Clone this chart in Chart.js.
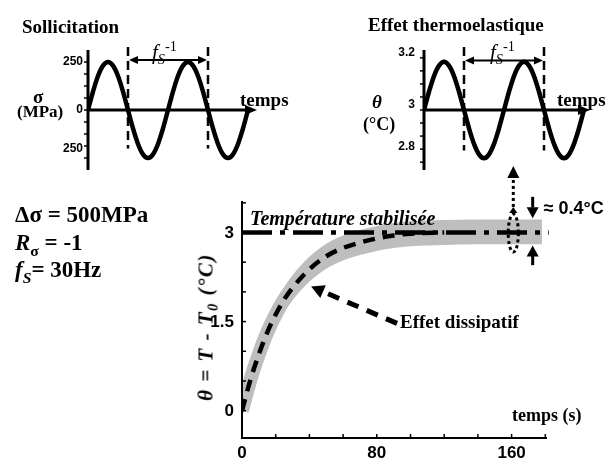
<!DOCTYPE html>
<html>
<head>
<meta charset="utf-8">
<script src="https://cdn.jsdelivr.net/npm/chart.js@4.4.0/dist/chart.umd.min.js"></script>
<style>
  html, body { margin: 0; padding: 0; background: #fff; }
  #wrap { position: relative; width: 615px; height: 461px; overflow: hidden; color: #000;
    font-family: 'Liberation Serif', 'Times New Roman', serif; }
  canvas { position: absolute; }
  .t { position: absolute; white-space: nowrap; line-height: 1; font-weight: bold; }
  .t sub, .t sup { font-size: 0.68em; line-height: 0; }
</style>
</head>
<body>
<div id="wrap">
  <canvas id="main-chart" width="615" height="461" style="left:0;top:0"></canvas>
  <canvas id="sigma-chart" width="300" height="190" style="left:0;top:0"></canvas>
  <canvas id="theta-chart" width="315" height="190" style="left:300px;top:0"></canvas>

  <!-- top left: loading signal -->
  <div class="t" style="left:22px;top:17px;font-size:19px">Sollicitation</div>
  <div class="t" style="left:152px;top:42px;font-size:21px;font-weight:normal"><i>f</i><sub><i>S</i></sub><sup>-1</sup></div>
  <div class="t" style="left:33px;top:87px;font-size:19px">σ</div>
  <div class="t" style="left:17px;top:103px;font-size:17px">(MPa)</div>
  <div class="t" style="left:240px;top:90px;font-size:19px">temps</div>

  <!-- top right: thermoelastic signal -->
  <div class="t" style="left:368px;top:15px;font-size:19px">Effet thermoelastique</div>
  <div class="t" style="left:490px;top:42px;font-size:21px;font-weight:normal"><i>f</i><sub><i>S</i></sub><sup>-1</sup></div>
  <div class="t" style="left:372px;top:92px;font-size:19px"><i>θ</i></div>
  <div class="t" style="left:363px;top:115px;font-size:18px">(°C)</div>
  <div class="t" style="left:557px;top:90px;font-size:19px">temps</div>

  <!-- loading parameters -->
  <div class="t" style="left:15px;top:203px;font-size:23px">Δσ = 500MPa</div>
  <div class="t" style="left:15px;top:231px;font-size:23px"><i>R</i><sub>σ</sub> = -1</div>
  <div class="t" style="left:15px;top:258px;font-size:23px"><i>f</i><sub><i>S</i></sub>= 30Hz</div>

  <!-- main plot texts -->
  <div class="t" style="left:250px;top:208px;font-size:20px;font-style:italic">Température stabilisée</div>
  <div class="t" style="left:400px;top:312px;font-size:19px">Effet dissipatif</div>
  <div class="t" style="left:512px;top:406px;font-size:18px">temps (s)</div>
  <div class="t" style="left:206px;top:327px;font-size:21px;font-style:italic;letter-spacing:1.5px;transform:translate(-50%,-50%) rotate(-90deg)">θ = T - T<sub>0</sub> (°C)</div>
</div>

<script>
// Signals over two loading periods (one point every 1/16 period)
const phase = [0, 0.0625, 0.125, 0.1875, 0.25, 0.3125, 0.375, 0.4375, 0.5, 0.5625, 0.625,
  0.6875, 0.75, 0.8125, 0.875, 0.9375, 1, 1.0625, 1.125, 1.1875, 1.25, 1.3125, 1.375,
  1.4375, 1.5, 1.5625, 1.625, 1.6875, 1.75, 1.8125, 1.875, 1.9375, 2];
const sigma = [0, 96, 177, 231, 250, 231, 177, 96, 0, -96, -177, -231, -250, -231, -177, -96,
  0, 96, 177, 231, 250, 231, 177, 96, 0, -96, -177, -231, -250, -231, -177, -96, 0];
const thetaElastic = [3, 3.07, 3.13, 3.17, 3.185, 3.17, 3.13, 3.07, 3, 2.93, 2.87, 2.83, 2.815,
  2.83, 2.87, 2.93, 3, 3.07, 3.13, 3.17, 3.185, 3.17, 3.13, 3.07, 3, 2.93, 2.87, 2.83, 2.815,
  2.83, 2.87, 2.93, 3];
const sigmaTicks = [250, 0, -200];
const sigmaTickLabels = ['250', '0', '250'];
const thetaTicks = [3.2, 3, 2.84];
const thetaTickLabels = ['3.2', '3', '2.8'];

// Main plot: temperature rise (s, °C)
const tSec = [0, 5, 10, 15, 20, 25, 30, 40, 50, 60, 70, 80, 90, 100, 120, 140, 160, 178];
const thetaMean = [0, 0.52, 0.95, 1.32, 1.62, 1.87, 2.07, 2.38, 2.6, 2.74, 2.83, 2.9, 2.95,
  2.98, 3.0, 3.01, 3.01, 3.01];
const thetaUpper = [0.2, 0.73, 1.16, 1.53, 1.83, 2.08, 2.28, 2.59, 2.81, 2.95, 3.04, 3.11,
  3.16, 3.19, 3.21, 3.22, 3.22, 3.22];
const thetaLower = [-0.1, 0.31, 0.74, 1.11, 1.41, 1.66, 1.86, 2.17, 2.39, 2.53, 2.62, 2.69,
  2.74, 2.77, 2.79, 2.8, 2.8, 2.8];
const thetaStable = 3;
const timeTicks = [0, 20, 40, 60, 80, 100, 120, 140, 160, 180];
const timeLabels = [0, 80, 160];
const thetaAxisTicks = [0, 0.5, 1, 1.5, 2, 2.5, 3, 3.5];
const thetaAxisLabels = [0, 1.5, 3];

const SANS = '"Liberation Sans", Arial, sans-serif';

function line(ctx, x1, y1, x2, y2) {
  ctx.beginPath();
  ctx.moveTo(x1, y1);
  ctx.lineTo(x2, y2);
  ctx.stroke();
}

// filled triangle with its tip at (x, y), pointing along angle
function arrowHead(ctx, x, y, angle, len, half) {
  ctx.save();
  ctx.translate(x, y);
  ctx.rotate(angle);
  ctx.beginPath();
  ctx.moveTo(0, 0);
  ctx.lineTo(-len, -half);
  ctx.lineTo(-len, half);
  ctx.closePath();
  ctx.fill();
  ctx.restore();
}

const pts = (xs, ys) => xs.map((x, i) => ({ x, y: ys[i] }));

// Axes, period marks and labels of the two small signal plots
const signalAxes = {
  id: 'signalAxes',
  afterDraw(c, args, o) {
    const { ctx, chartArea: a } = c;
    const xs = c.scales.x;
    const ys = c.scales.y;
    const x0 = xs.getPixelForValue(0);
    const yb = ys.getPixelForValue(o.base);
    ctx.save();
    ctx.strokeStyle = '#000';
    ctx.fillStyle = '#000';
    // vertical axis
    ctx.lineWidth = 3;
    line(ctx, x0, a.top, x0, a.bottom);
    // minor ticks on the left side
    ctx.lineWidth = 1.5;
    for (let v = o.base - o.minor * 5; v <= o.base + o.minor * 5; v += o.minor) {
      const y = ys.getPixelForValue(v);
      if (y > a.top + 2 && y < a.bottom - 2) line(ctx, x0 - 4, y, x0, y);
    }
    // time axis with arrow
    ctx.lineWidth = 3;
    line(ctx, x0, yb, a.right - 8, yb);
    arrowHead(ctx, a.right, yb, 0, 12, 5);
    // one period between two dashed lines
    const xa = xs.getPixelForValue(o.marks[0]);
    const xb = xs.getPixelForValue(o.marks[1]);
    ctx.lineWidth = 2.5;
    ctx.setLineDash([9, 5]);
    line(ctx, xa, a.top - 3, xa, ys.getPixelForValue(o.dashEnd));
    line(ctx, xb, a.top - 3, xb, ys.getPixelForValue(o.dashEnd));
    ctx.setLineDash([]);
    const ya = ys.getPixelForValue(o.arrowAt);
    ctx.lineWidth = 2;
    line(ctx, xa + 6, ya, xb - 6, ya);
    arrowHead(ctx, xa + 1, ya, Math.PI, 9, 4);
    arrowHead(ctx, xb - 1, ya, 0, 9, 4);
    // tick labels
    ctx.font = `bold 12px ${SANS}`;
    ctx.textAlign = 'right';
    ctx.textBaseline = 'middle';
    o.ticks.forEach((v, i) => {
      ctx.fillText(o.labels[i], x0 - o.gap, ys.getPixelForValue(v) + o.dy);
    });
    ctx.restore();
  },
};

function signalChart(id, values, opts) {
  const ctx = document.getElementById(id);
  return new Chart(ctx, {
    type: 'line',
    data: {
      datasets: [{
        data: pts(phase, values),
        borderColor: '#000',
        borderWidth: 4.5,
        pointRadius: 0,
        cubicInterpolationMode: 'monotone',
        fill: false,
      }],
    },
    options: {
      responsive: false,
      animation: false,
      layout: { padding: opts.padding },
      scales: {
        x: { type: 'linear', display: false, min: 0, max: opts.xMax },
        y: { type: 'linear', display: false, min: opts.yMin, max: opts.yMax },
      },
      plugins: {
        legend: { display: false },
        tooltip: { enabled: false },
        signalAxes: opts.axes,
      },
    },
    plugins: [signalAxes],
  });
}

signalChart('sigma-chart', sigma, {
  padding: { left: 88, right: 43, top: 50, bottom: 20 },
  xMax: 2.1125,
  yMin: -312.5,
  yMax: 312.5,
  axes: {
    base: 0, minor: 62.5, marks: [0.5, 1.5], dashEnd: -200, arrowAt: 260,
    ticks: sigmaTicks, labels: sigmaTickLabels, gap: 5, dy: 0,
  },
});

signalChart('theta-chart', thetaElastic, {
  padding: { left: 124, right: 25, top: 50, bottom: 20 },
  xMax: 2.075,
  yMin: 2.77,
  yMax: 3.23,
  axes: {
    base: 3, minor: 0.05, marks: [0.5, 1.5], dashEnd: 2.845, arrowAt: 3.19,
    ticks: thetaTicks, labels: thetaTickLabels, gap: 9, dy: -5,
  },
});

// Axes and annotations of the main plot
const mainDecor = {
  id: 'mainDecor',
  afterDraw(c) {
    const { ctx, chartArea: a } = c;
    const px = (v) => c.scales.x.getPixelForValue(v);
    const py = (v) => c.scales.y.getPixelForValue(v);
    ctx.save();
    ctx.strokeStyle = '#000';
    ctx.fillStyle = '#000';
    // axes
    ctx.lineWidth = 2;
    ctx.beginPath();
    ctx.moveTo(a.left, a.top);
    ctx.lineTo(a.left, a.bottom);
    ctx.lineTo(a.right, a.bottom);
    ctx.stroke();
    // ticks pointing inside
    ctx.lineWidth = 1.5;
    timeTicks.forEach((t) => line(ctx, px(t), a.bottom, px(t), a.bottom - 4));
    thetaAxisTicks.forEach((v) => line(ctx, a.left, py(v), a.left + 4, py(v)));
    // tick labels
    ctx.font = `bold 17px ${SANS}`;
    ctx.textBaseline = 'middle';
    ctx.textAlign = 'center';
    timeLabels.forEach((t) => ctx.fillText(String(t), px(t), a.bottom + 15));
    ctx.textAlign = 'right';
    thetaAxisLabels.forEach((v) => ctx.fillText(String(v), a.left - 8, py(v) + 1));

    // dashed arrow pointing at the dissipative curve
    const tail = { x: px(92), y: py(1.47) };
    const tip = { x: px(41), y: py(2.09) };
    const ang = Math.atan2(tip.y - tail.y, tip.x - tail.x);
    ctx.lineWidth = 5;
    ctx.setLineDash([12, 9]);
    line(ctx, tail.x, tail.y, tip.x - 12 * Math.cos(ang), tip.y - 12 * Math.sin(ang));
    ctx.setLineDash([]);
    arrowHead(ctx, tip.x, tip.y, ang, 13, 7);

    // dotted zoom on the oscillation, pointing to the upper right plot
    const xz = px(161);
    ctx.lineWidth = 3;
    ctx.setLineDash([3, 3]);
    line(ctx, xz, py(3.43), xz, py(3.92));
    ctx.beginPath();
    ctx.ellipse(xz, (py(3.31) + py(2.67)) / 2, (px(164.5) - px(158.5)) / 2,
      (py(2.67) - py(3.31)) / 2, 0, 0, Math.PI * 2);
    ctx.stroke();
    ctx.setLineDash([]);
    arrowHead(ctx, xz, py(4.12), -Math.PI / 2, 12, 6);
    arrowHead(ctx, xz, py(3.43), -Math.PI / 2, 6, 4);

    // amplitude of the thermoelastic oscillation
    const xa = px(172.5);
    ctx.lineWidth = 3;
    line(ctx, xa, py(3.6), xa, py(3.42));
    arrowHead(ctx, xa, py(3.24), Math.PI / 2, 11, 6);
    line(ctx, xa, py(2.45), xa, py(2.62));
    arrowHead(ctx, xa, py(2.78), -Math.PI / 2, 11, 6);
    ctx.font = `bold 18px ${SANS}`;
    ctx.textAlign = 'left';
    ctx.fillText('≈ 0.4°C', xa + 11, py(3.39));
    ctx.restore();
  },
};

const mainCtx = document.getElementById('main-chart');
// eslint-disable-next-line no-unused-vars
const mainChart = new Chart(mainCtx, {
  type: 'line',
  data: {
    datasets: [
      // dissipative heating (mean temperature)
      {
        data: pts(tSec.slice(0, 15), thetaMean.slice(0, 15)),
        borderColor: '#000',
        borderWidth: 4.5,
        borderDash: [12, 8],
        pointRadius: 0,
        cubicInterpolationMode: 'monotone',
        fill: false,
        order: 0,
      },
      // stabilised temperature
      {
        data: [{ x: 0, y: thetaStable }, { x: 182, y: thetaStable }],
        borderColor: '#000',
        borderWidth: 4.5,
        borderDash: [30, 8, 5, 8],
        pointRadius: 0,
        fill: false,
        clip: false,
        order: 1,
      },
      // measured signal, thick grey trace
      {
        data: pts(tSec, thetaMean),
        borderColor: '#bebebe',
        borderWidth: 14,
        borderCapStyle: 'butt',
        pointRadius: 0,
        cubicInterpolationMode: 'monotone',
        fill: false,
        order: 2,
      },
      // oscillation envelope
      {
        data: pts(tSec, thetaUpper),
        borderWidth: 0,
        borderColor: 'rgba(0,0,0,0)',
        backgroundColor: '#bebebe',
        pointRadius: 0,
        cubicInterpolationMode: 'monotone',
        fill: '+1',
        order: 3,
      },
      {
        data: pts(tSec, thetaLower),
        borderWidth: 0,
        borderColor: 'rgba(0,0,0,0)',
        pointRadius: 0,
        cubicInterpolationMode: 'monotone',
        fill: false,
        order: 4,
      },
    ],
  },
  options: {
    responsive: false,
    animation: false,
    layout: {
      padding: { left: 242, right: 68, top: 201, bottom: 23 },
    },
    scales: {
      x: { type: 'linear', display: false, min: 0, max: 181 },
      y: { type: 'linear', display: false, min: -0.46, max: 3.53 },
    },
    plugins: {
      legend: { display: false },
      tooltip: { enabled: false },
    },
  },
  plugins: [mainDecor],
});
</script>
</body>
</html>
